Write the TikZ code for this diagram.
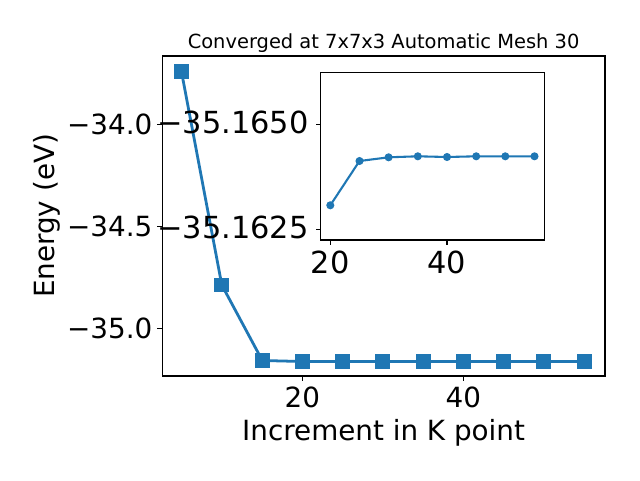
\documentclass[tikz,border=0pt]{standalone}
\usepackage{fontspec}
\setmainfont{DejaVu Sans}
\definecolor{mplblue}{HTML}{1F77B4}
\begin{document}
\begin{tikzpicture}[x=1pt,y=-1pt,
  spine/.style={draw=black,line width=1.1pt},
  tickmark/.style={draw=black,line width=1.1pt},
  ticklbl/.style={inner sep=0pt,font=\fontsize{27.8}{32}\selectfont},
  insetlbl/.style={inner sep=0pt,font=\fontsize{30.4}{35}\selectfont},
  axlbl/.style={inner sep=0pt,font=\fontsize{27.8}{32}\selectfont},
  ttl/.style={inner sep=0pt,font=\fontsize{19.44}{23}\selectfont},
  mainline/.style={draw=mplblue,line width=2.78pt,line join=round},
  insetline/.style={draw=mplblue,line width=2.08pt,line join=round},
  sqmark/.style={rectangle,fill=mplblue,draw=mplblue,line width=1pt,minimum size=13.9pt,inner sep=0pt},
  dotmark/.style={circle,fill=mplblue,draw=mplblue,line width=1pt,minimum size=7pt,inner sep=0pt}]
\useasboundingbox (0,0) rectangle (640,480);
\fill[white] (0,0) rectangle (640,480);
% ---------- main axes ----------
\coordinate (mainNW) at (162.3,56);
\coordinate (mainSE) at (605,376);
\foreach \i/\x/\y in {1/181.5/71.7, 2/221.8/285, 3/262.3/360.5, 4/302.3/361.5, 5/342.6/361.5, 6/382.8/361.5, 7/423.1/361.5, 8/463.3/361.5, 9/503.6/361.5, 10/543.8/361.5, 11/584.1/361.5}
  \coordinate (m\i) at (\x,\y);
\draw[mainline] (m1) -- (m2) -- (m3) -- (m4) -- (m5) -- (m6) -- (m7) -- (m8) -- (m9) -- (m10) -- (m11);
\foreach \i in {1,...,11} \node[sqmark] (sq\i) at (m\i) {};
\draw[spine] (mainNW) rectangle (mainSE);
% main y ticks
\foreach \n/\y/\t in {ya/124.3/{−34.0}, yb/226.5/{−34.5}, yc/328.3/{−35.0}} {
  \coordinate (\n) at (162.3,\y);
  \coordinate (\n t) at (157.4,\y);
  \draw[tickmark] (\n) -- (\n t);
  \node[ticklbl,anchor=east] (\n l) at (152.5,\y) {\t};
}
% main x ticks
\foreach \n/\x/\t in {xa/302.3/20, xb/463.3/40} {
  \coordinate (\n) at (\x,376);
  \coordinate (\n t) at (\x,380.9);
  \draw[tickmark] (\n) -- (\n t);
  \node[ticklbl,anchor=base] (\n l) at (\x,407) {\t};
}
\node[axlbl,anchor=base] (xlabel) at (383.6,440.5) {Increment in K point};
\node[axlbl,anchor=base,rotate=90] (ylabel) at (54.3,216) {Energy (eV)};
\node[ttl,anchor=base] (title) at (383.6,48.2) {Converged at 7x7x3 Automatic Mesh 30};
% ---------- inset axes ----------
\coordinate (insNW) at (320.7,72.3);
\coordinate (insSE) at (544.3,240);
\fill[white] (insNW) rectangle (insSE);
\foreach \i/\x/\y in {1/330.3/205.3, 2/359.5/161, 3/388.6/157.3, 4/417.8/156.3, 5/447/157, 6/476.2/156.3, 7/505.3/156.3, 8/534.5/156.3}
  \coordinate (d\i) at (\x,\y);
\draw[insetline] (d1) -- (d2) -- (d3) -- (d4) -- (d5) -- (d6) -- (d7) -- (d8);
\foreach \i in {1,...,8} \node[dotmark] (dot\i) at (d\i) {};
\draw[spine] (insNW) rectangle (insSE);
\foreach \n/\y/\b/\t in {iya/124.3/133.5/{−35.1650}, iyb/229.3/238.5/{−35.1625}} {
  \coordinate (\n) at (320.7,\y);
  \coordinate (\n t) at (315.8,\y);
  \draw[tickmark] (\n) -- (\n t);
  \node[insetlbl,anchor=base east] (\n l) at (308.8,\b) {\t};
}
\foreach \n/\x/\t in {ixa/330.3/20, ixb/447/40} {
  \coordinate (\n) at (\x,240);
  \coordinate (\n t) at (\x,244.9);
  \draw[tickmark] (\n) -- (\n t);
  \node[insetlbl,anchor=base] (\n l) at (\x,273.5) {\t};
}
\end{tikzpicture}
\end{document}
